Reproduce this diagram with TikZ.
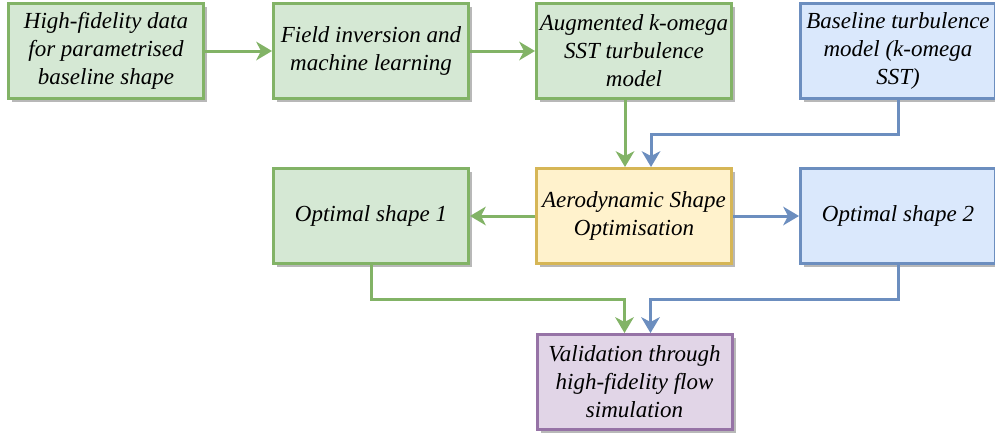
\documentclass[tikz,border=0pt]{standalone}
\usepackage{fontspec}
\setmainfont{Liberation Serif}
\usetikzlibrary{arrows.meta,shadows}
\definecolor{gfill}{HTML}{D5E8D4}
\definecolor{gline}{HTML}{82B366}
\definecolor{bfill}{HTML}{DAE8FC}
\definecolor{bline}{HTML}{6C8EBF}
\definecolor{yfill}{HTML}{FFF2CC}
\definecolor{yline}{HTML}{D6B656}
\definecolor{pfill}{HTML}{E1D5E7}
\definecolor{pline}{HTML}{9673A6}
\begin{document}
\begin{tikzpicture}[x=1pt,y=-1pt,
  box/.style={draw, line width=3pt, minimum width=195pt, minimum height=95pt,
    inner sep=0pt, align=center, font=\fontsize{23}{28}\selectfont\itshape,
    drop shadow={shadow xshift=3.5pt, shadow yshift=-3.5pt, fill=black!28, opacity=1}},
  gbox/.style={box, fill=gfill, draw=gline},
  bbox/.style={box, fill=bfill, draw=bline},
  ybox/.style={box, fill=yfill, draw=yline},
  pbox/.style={box, fill=pfill, draw=pline},
  conn/.style={line width=3pt, -{Stealth[length=16pt,width=19pt,inset=5pt,line width=0pt]}},
  gconn/.style={conn, draw=gline},
  bconn/.style={conn, draw=bline}]
\useasboundingbox (0,0) rectangle (995,439);
\node[gbox] (b1) at (106,51) {High-fidelity data\\for parametrised\\baseline shape};
\node[gbox] (b2) at (371,51) {Field inversion and\\machine learning};
\node[gbox] (b3) at (634,51) {Augmented k-omega\\SST turbulence\\model};
\node[bbox] (b4) at (898,51) {Baseline turbulence\\model (k-omega\\SST)};
\node[gbox] (o1) at (371,216) {Optimal shape 1};
\node[ybox] (aero) at (634,216) {Aerodynamic Shape\\Optimisation};
\node[bbox] (o2) at (898,216) {Optimal shape 2};
\node[pbox] (val) at (634.5,382) {Validation through\\high-fidelity flow\\simulation};
\draw[gconn] (b1.east) -- (b2.west);
\draw[gconn] (b2.east) -- (b3.west);
\draw[gconn] ([xshift=-9pt]b3.south) -- ([xshift=-9pt]aero.north);
\draw[bconn] (b4.south) -- ++(0,34) -| ([xshift=17pt]aero.north);
\draw[gconn] (aero.west) -- (o1.east);
\draw[bconn] (aero.east) -- (o2.west);
\draw[gconn] (o1.south) -- ++(0,34) -| ([xshift=-10pt]val.north);
\draw[bconn] (o2.south) -- ++(0,34) -| ([xshift=16pt]val.north);
\end{tikzpicture}
\end{document}
